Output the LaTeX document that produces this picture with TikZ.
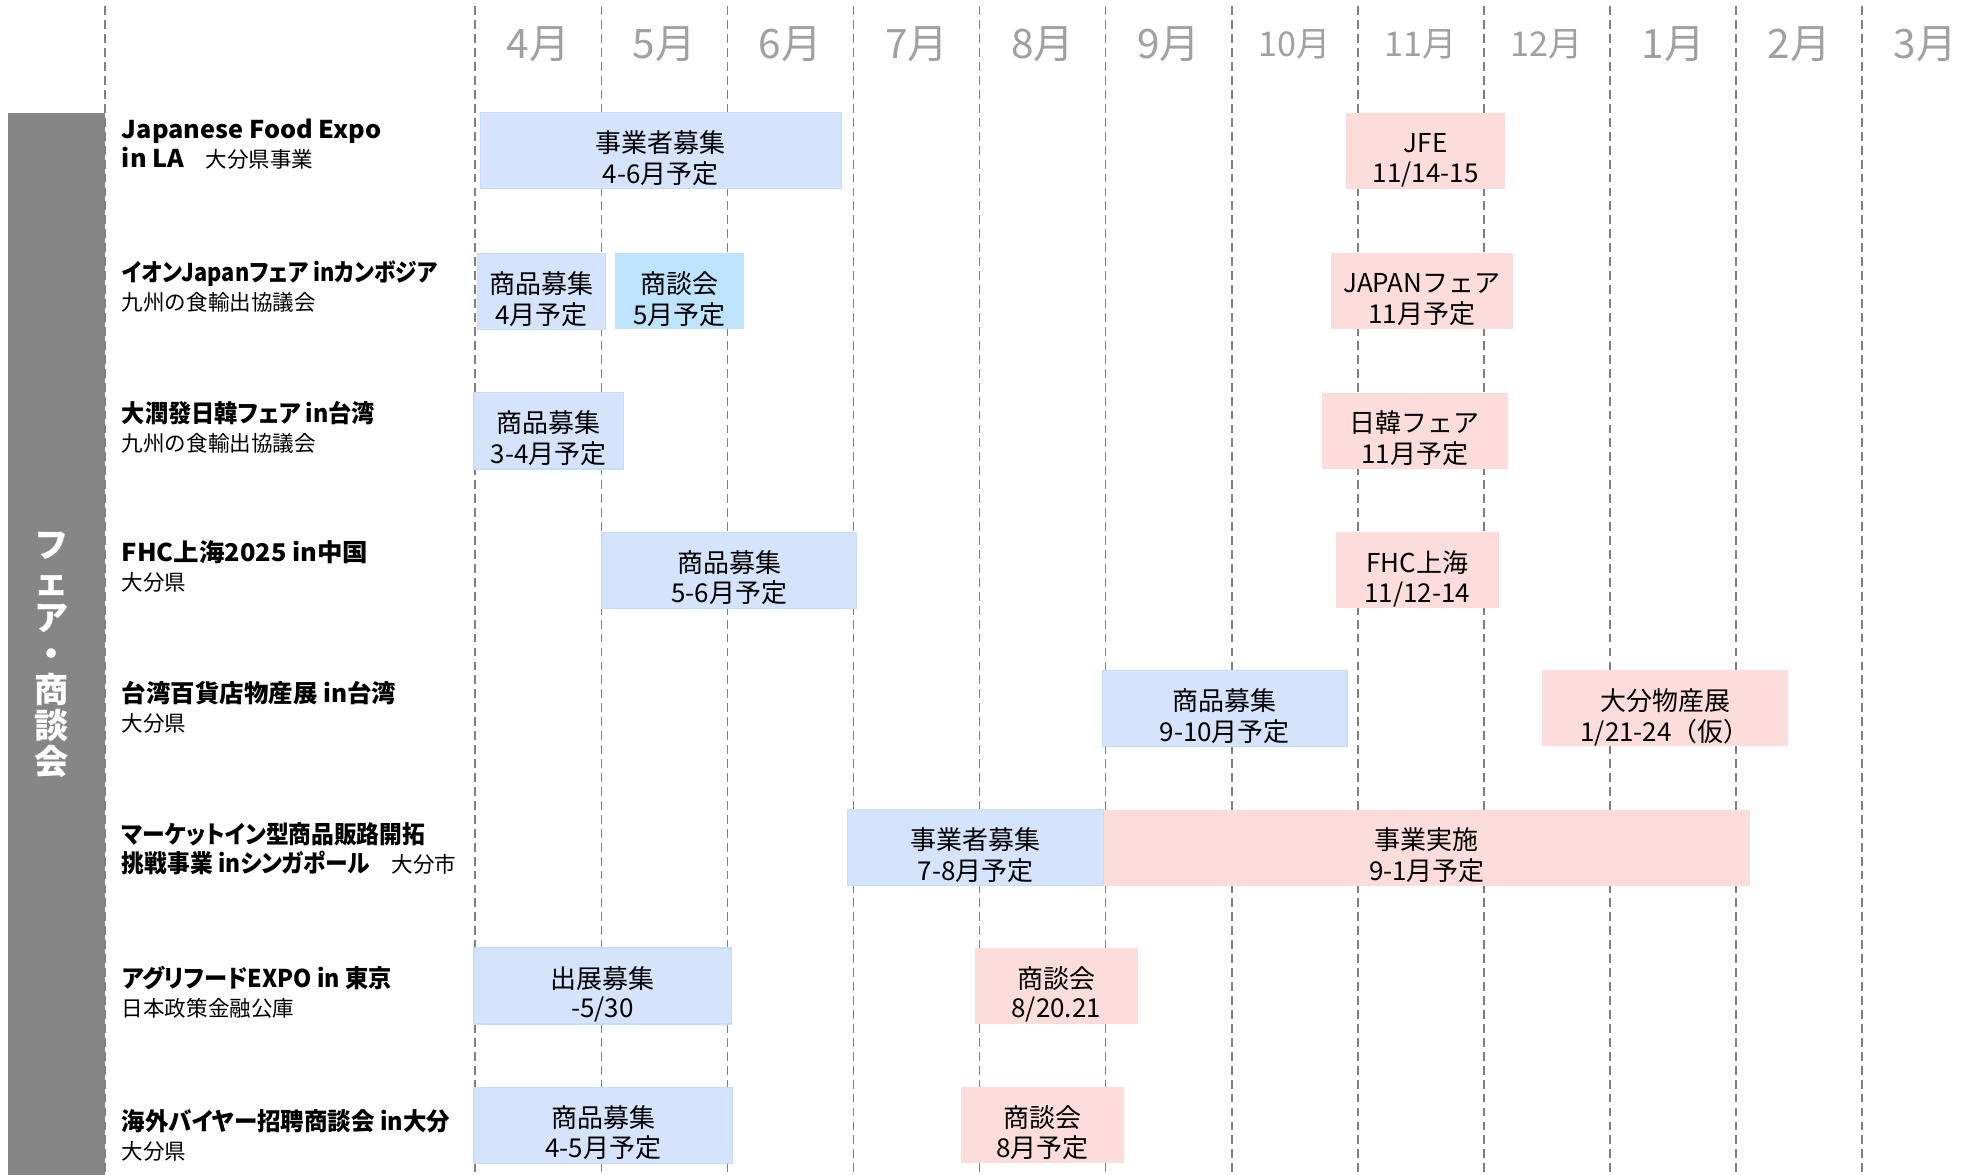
\documentclass[tikz,border=0pt]{standalone}
\usepackage{fontspec}
\usepackage{graphicx}
\setmainfont{Noto Sans CJK JP}
\usetikzlibrary{positioning}
\definecolor{gridgray}{RGB}{128,128,128}
\definecolor{monthgray}{RGB}{160,160,160}
\definecolor{bargray}{RGB}{134,134,134}
\definecolor{planblue}{RGB}{213,227,252}
\definecolor{planline}{RGB}{196,221,248}
\definecolor{talkcyan}{RGB}{190,227,253}
\definecolor{eventpink}{RGB}{253,220,220}
% bold title text, optionally squeezed sideways
\newcommand{\ttl}[2][1]{\scalebox{#1}[1]{\fontsize{19.3}{23}\selectfont\bfseries
	\addfontfeatures{RawFeature=+palt}#2}}
% two lines in a bar box, set a little lower than centre
\newcommand{\twol}[2]{\raisebox{-8.5pt}[\height][\depth]{%
	\begin{tabular}{@{}c@{}}#1\\#2\end{tabular}}}

\begin{document}
\begin{tikzpicture}[x=1pt,y=-1pt,
	gl/.style = {% grid lines
		draw=gridgray, line width=1.2pt, dash pattern=on 7pt off 4pt},
	ml/.style = {% month labels
		text=monthgray, inner sep=0pt, font=\fontsize{32}{32}\selectfont},
	rl/.style = {% row labels
		anchor=west, align=left, inner sep=0pt, font=\fontsize{17}{23}\selectfont},
	bx/.style = {% bar boxes
		minimum height=60pt, inner sep=0pt,
		font=\fontsize{20.5}{23}\selectfont},
	plan/.style = {bx, fill=planblue, draw=planline, line width=1pt},
	talk/.style = {bx, fill=talkcyan},
	event/.style = {bx, fill=eventpink},
	]
	\useasboundingbox (0,0) rectangle (1568,927);

	% side bar
	\fill[bargray] (6,89) rectangle (83,927);
	\node[text=white, align=center, inner sep=0pt,
		font=\fontsize{27}{28.5}\selectfont\bfseries] (side) at (41,517)
		{フ\\ェ\\ア\\・\\商\\談\\会};
	\draw[gl] (83,5) -- (83,927);

	% months
	\foreach \m [count=\k from 0] in {4,5,6,7,8,9,10,11,12,1,2,3} {
		\draw[gl] (375+99.5*\k,5) -- (375+99.5*\k,927);
		\node[ml] (m\m) at (424.75+99.5*\k,35)
			{\ifnum\m>9 \fontsize{27}{27}\selectfont\fi\m 月};
	}

	% row labels
	\node[rl] (t1) at (96,114) {\ttl[1.035]{Japanese Food Expo}\\\ttl[1.035]{in LA}\quad 大分県事業};
	\node[rl] (t2) at (96,226) {\ttl[0.89]{イオンJapanフェア inカンボジア}\\九州の食輸出協議会};
	\node[rl] (t3) at (96,337) {\ttl[0.95]{大潤發日韓フェア in台湾}\\九州の食輸出協議会};
	\node[rl] (t4) at (96,447) {\ttl[1.04]{FHC上海2025 in中国}\\大分県};
	\node[rl] (t5) at (96,558) {\ttl{台湾百貨店物産展 in台湾}\\大分県};
	\node[rl] (t6) at (96,670) {\ttl[0.93]{マーケットイン型商品販路開拓}\\\ttl[0.93]{挑戦事業 inシンガポール}\quad 大分市};
	\node[rl] (t7) at (96,783) {\ttl[0.95]{アグリフードEXPO in 東京}\\日本政策金融公庫};
	\node[rl] (t8) at (96,896) {\ttl[0.96]{海外バイヤー招聘商談会 in大分}\\大分県};

	% schedule boxes
	\node[plan, minimum width=285pt] (b1a) at (521.5,119) {\twol{事業者募集}{4-6月予定}};
	\node[event, minimum width=126pt] (b1b) at (1125,119) {\twol{JFE}{11/14-15}};

	\node[plan, minimum width=101pt] (b2a) at (427.5,230) {\twol{商品募集}{4月予定}};
	\node[talk, minimum width=102pt] (b2b) at (536,230) {\twol{商談会}{5月予定}};
	\node[event, minimum width=144pt] (b2c) at (1122,230) {\twol{JAPANフェア}{11月予定}};

	\node[plan, minimum width=118pt] (b3a) at (433,340) {\twol{商品募集}{3-4月予定}};
	\node[event, minimum width=147pt] (b3b) at (1116.5,340) {\twol{日韓フェア}{11月予定}};

	\node[plan, minimum width=201pt] (b4a) at (575.5,450) {\twol{商品募集}{5-6月予定}};
	\node[event, minimum width=129pt] (b4b) at (1118.5,450) {\twol{FHC上海}{11/12-14}};

	\node[plan, minimum width=193pt] (b5a) at (966.5,559) {\twol{商品募集}{9-10月予定}};
	\node[event, minimum width=194pt] (b5b) at (1314,559) {\twol{大分物産展}{1/21-24（仮）}};

	\node[event, minimum width=510pt] (b6b) at (1126,669) {\twol{事業実施}{9-1月予定}};
	\node[plan, minimum width=202pt] (b6a) at (770,669) {\twol{事業者募集}{7-8月予定}};

	\node[plan, minimum width=203pt] (b7a) at (475.5,778) {\twol{出展募集}{-5/30}};
	\node[event, minimum width=129pt] (b7b) at (833.5,778) {\twol{商談会}{8/20.21}};

	\node[plan, minimum width=204pt] (b8a) at (476,888) {\twol{商品募集}{4-5月予定}};
	\node[event, minimum width=129pt] (b8b) at (822.5,888) {\twol{商談会}{8月予定}};

\end{tikzpicture}
\end{document}
